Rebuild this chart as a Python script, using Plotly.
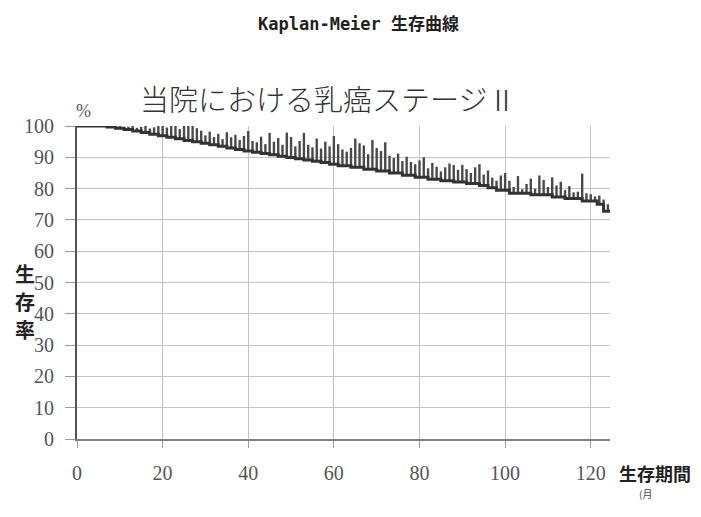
import plotly.graph_objects as go

# Kaplan-Meier step curve: event times (months) and survival (%) after each event
event_t = [0, 7, 9, 11, 13, 15, 17, 19, 21, 23, 25, 27, 29, 31, 33, 35, 37, 39,
           41, 43, 45, 47, 49, 51, 53, 55, 57, 59, 61, 64, 67, 70, 73, 76, 79,
           82, 85, 88, 91, 94, 96, 98, 101, 106, 111, 114, 118, 121.5, 123]
surv = [100, 99.7, 99.3, 98.9, 98.4, 97.9, 97.4, 96.9, 96.4, 95.9, 95.4, 95.0,
        94.5, 94.0, 93.5, 93.0, 92.5, 92.0, 91.6, 91.2, 90.8, 90.3, 89.9, 89.5,
        89.1, 88.7, 88.3, 87.8, 87.3, 86.8, 86.2, 85.6, 85.0, 84.3, 83.6, 83.0,
        82.5, 82.1, 81.6, 81.0, 80.3, 79.5, 78.5, 78.0, 77.3, 76.8, 76.0, 75.0,
        72.8]
end_t = 124.5

# Censored observations: time (months) and the top of each censor mark (%)
censor_t = list(range(8, 125))
censor_top = [
    99.8, 99.6, 100, 99.5, 99.8, 100, 99.4, 99.7, 100, 99.2, 99.6, 100,
    100, 99.5, 100, 100, 99.0, 100, 100, 100, 99.3, 98.5,
    97.0, 98.2, 96.5, 97.5, 95.8, 98.0, 96.4, 97.2, 95.5, 96.8,
    98.4, 95.2, 94.8, 96.6, 94.2, 97.8, 95.0, 96.2, 94.0, 97.9,
    96.5, 93.5, 95.2, 97.8, 94.0, 93.2, 96.0, 92.8, 95.0, 93.5,
    96.8, 94.2, 92.5, 91.8, 93.0, 96.0, 94.5, 93.8, 91.0, 95.5,
    93.0, 92.0, 94.8, 90.5, 89.8, 91.2, 88.8, 90.2, 88.5, 87.8,
    89.0, 90.0, 86.5, 88.2, 87.0, 85.5, 86.8, 88.0, 87.5, 86.0,
    87.6, 86.2, 85.0, 86.8, 87.8, 84.5, 85.8, 83.5, 82.5, 84.2,
    85.0, 82.5, 80.5, 84.0, 79.8, 81.5, 83.2, 80.0, 84.2, 82.8,
    80.5, 83.6, 81.0, 82.2, 79.5, 80.8, 78.8, 79.0, 84.8, 78.5,
    78.2, 77.5, 77.8, 76.5, 75.0,
]

x_ticks = [0, 20, 40, 60, 80, 100, 120]
y_ticks = list(range(0, 101, 10))


def survival_at(t):
    s = surv[0]
    for et, sv in zip(event_t, surv):
        if et <= t:
            s = sv
    return s


# censor marks as vertical segments rising from the curve
mx, my = [], []
for t, top in zip(censor_t, censor_top):
    mx += [t, t, None]
    my += [survival_at(t), top, None]

fig = go.Figure()
fig.add_trace(go.Scatter(
    x=mx, y=my, mode="lines",
    line=dict(color="#4a4a4a", width=2.4),
    hoverinfo="skip", showlegend=False,
))
fig.add_trace(go.Scatter(
    x=event_t + [end_t], y=surv + [surv[-1]], mode="lines",
    line=dict(color="#333333", width=3, shape="hv"),
    showlegend=False,
))

W, H = 701, 517
L, R, T, B = 77, 91, 126, 78
pw, ph = W - L - R, H - T - B

tick_font = dict(family="Liberation Serif", size=20, color="#555555")
fig.update_layout(
    width=W, height=H,
    margin=dict(l=L, r=R, t=T, b=B),
    paper_bgcolor="white", plot_bgcolor="white",
    xaxis=dict(
        range=[0, end_t], tickvals=x_ticks, showgrid=True,
        gridcolor="#c4c4c4", gridwidth=1, zeroline=False,
        showline=True, linecolor="#808080", linewidth=2,
        ticks="outside", ticklen=7, tickcolor="#999999",
        tickfont=tick_font, ticklabelstandoff=8,
    ),
    yaxis=dict(
        range=[0, 100], tickvals=y_ticks, showgrid=True,
        gridcolor="#c4c4c4", gridwidth=1, zeroline=False,
        showline=True, linecolor="#555555", linewidth=2,
        ticks="outside", ticklen=10, tickcolor="#999999",
        tickfont=tick_font, ticklabelstandoff=7,
    ),
)


def px(x):
    return (x - L) / pw


def py(y):
    return (H - B - y) / ph


def label(text, x, y, font):
    fig.add_annotation(text=text, x=px(x), y=py(y), xref="paper",
                       yref="paper", xanchor="center", yanchor="middle",
                       showarrow=False, font=font)


title_font = dict(family="Noto Sans CJK JP", size=20, color="#222222")
label("<b>Kaplan-Meier 生存曲線</b>", 358, 24,
      dict(family="DejaVu Sans Mono, Noto Sans CJK JP", size=17, color="#222222"))
label("当院における乳癌ステージⅡ", 328, 98,
      dict(family="Noto Sans CJK JP", size=29, color="#333333", weight=300))
label("%", 83, 111, dict(family="Liberation Serif", size=18, color="#555555"))
for ch, yy in zip("生存率", [273, 301, 329]):
    label(f"<b>{ch}</b>", 25, yy, title_font)
label("<b>生存期間</b>", 655, 473,
      dict(family="Noto Sans CJK JP", size=18, color="#222222"))
label("(月", 645, 493, dict(family="Noto Sans CJK JP", size=10, color="#444444"))

fig.write_html("out.html")
